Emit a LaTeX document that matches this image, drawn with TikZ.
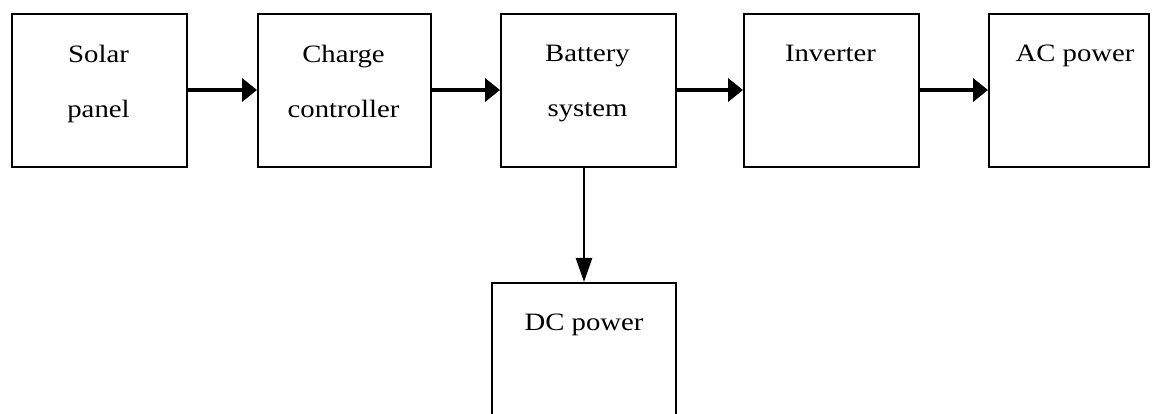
\documentclass[tikz,border=0pt]{standalone}
\usepackage{fontspec}
\setmainfont{Liberation Serif}[FakeStretch=1.15]
\usetikzlibrary{arrows.meta}
\begin{document}
\begin{tikzpicture}[x=1pt,y=1pt,
  blk/.style={draw=black,line width=1.8pt,anchor=north west,inner sep=0pt,minimum height=153pt},
  lbl/.style={anchor=north,inner sep=0pt,align=center,font=\fontsize{25}{55}\selectfont},
  harrow/.style={line width=4pt,-{Triangle[length=15pt,width=23pt]}},
  varrow/.style={line width=2.6pt,-{Triangle[length=24pt,width=16pt]}}]
\useasboundingbox (0,0) rectangle (1152,-414);
\fill[white] (0,0) rectangle (1152,-414);
\node[blk,minimum width=175pt] (solar) at (11,-13) {};
\node[blk,minimum width=173pt] (charge) at (257,-13) {};
\node[blk,minimum width=175pt] (battery) at (500,-13) {};
\node[blk,minimum width=175pt] (inverter) at (743,-13) {};
\node[blk,minimum width=160pt] (ac) at (988,-13) {};
\node[blk,minimum width=184pt,minimum height=150pt] (dc) at (491,-282) {};
\node[lbl] (tsolar) at (98.5,-45) {Solar\\panel};
\node[lbl] (tcharge) at (343.5,-45) {Charge\\controller};
\node[lbl] (tbattery) at (587.5,-45) {Battery\\system};
\node[lbl] (tinverter) at (830.5,-45) {Inverter};
\node[lbl] (tac) at (1075,-45) {AC power};
\node[lbl] (tdc) at (584,-314) {DC power};
\draw[harrow] (solar.east |- 0,-90) -- (charge.west |- 0,-90);
\draw[harrow] (charge.east |- 0,-90) -- (battery.west |- 0,-90);
\draw[harrow] (battery.east |- 0,-90) -- (inverter.west |- 0,-90);
\draw[harrow] (inverter.east |- 0,-90) -- (ac.west |- 0,-90);
\draw[varrow] (battery.south -| 584,0) -- (dc.north -| 584,0);
\end{tikzpicture}
\end{document}
